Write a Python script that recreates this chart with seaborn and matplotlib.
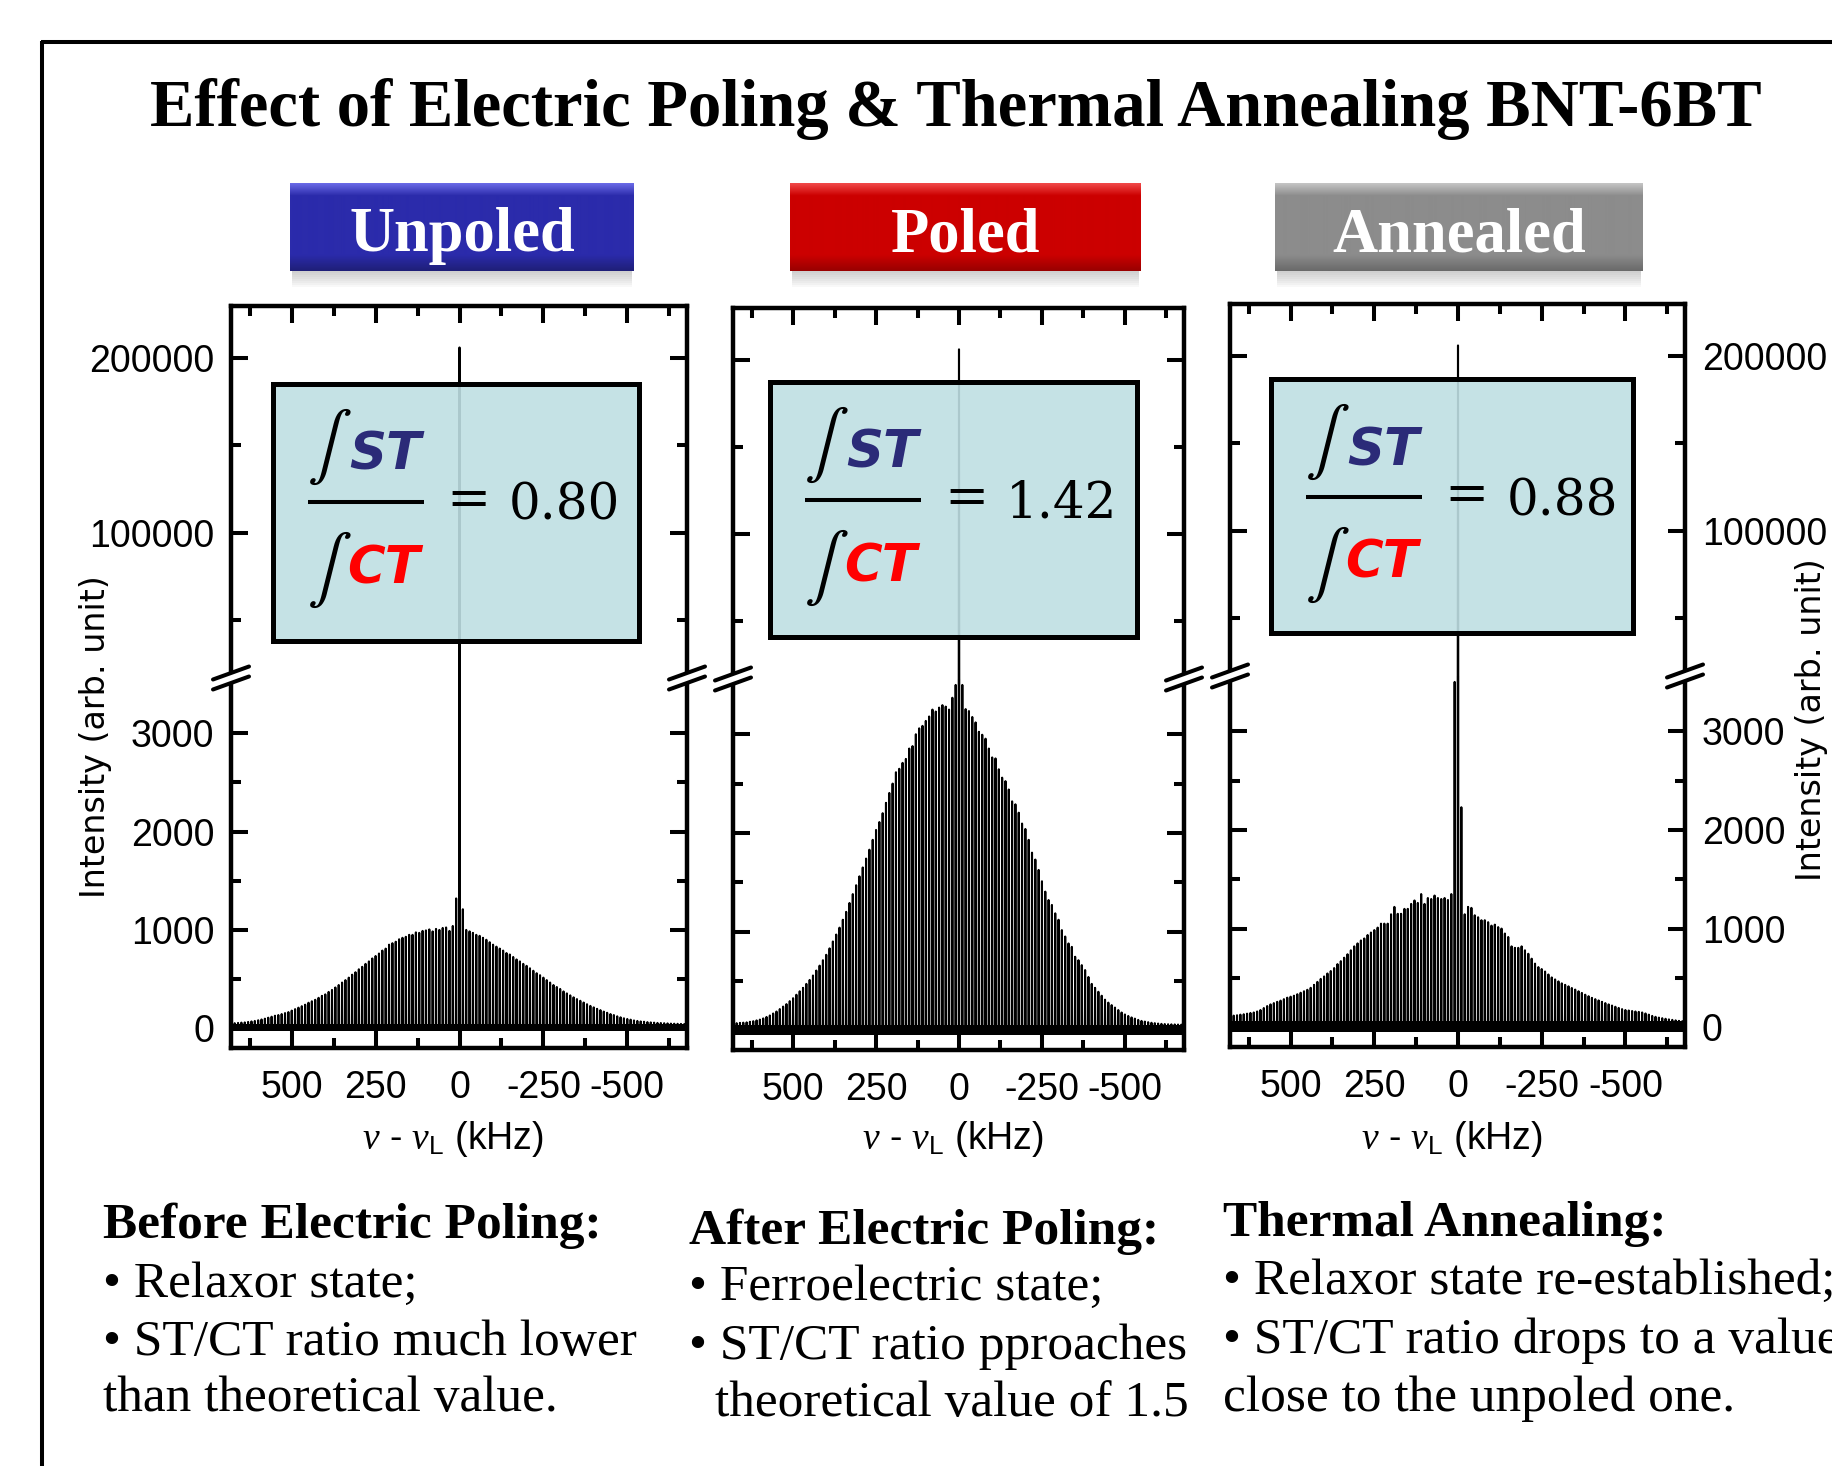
import numpy as np
import pandas as pd
import matplotlib
matplotlib.use("Agg")
import matplotlib.pyplot as plt
import seaborn as sns
from matplotlib import font_manager
from matplotlib.patches import Rectangle, Polygon

# ---- values -----------------------------------------------------------------
sample_names = ['Unpoled', 'Poled', 'Annealed']
st_ct_ratio = ['0.80', '1.42', '0.88']

sideband_step = 10          # kHz between spinning sidebands
ct_height = [206000, 206000, 206000]   # central line, reaches the upper axis

# sideband heights, +10 -> +680 kHz
unpoled_pos = [1320, 1040, 990, 1025, 1020, 1000, 1010, 985, 1005, 995,
               990, 970, 975, 950, 950, 930, 920, 905, 880, 865,
               850, 810, 790, 760, 735, 710, 680, 655, 625, 600,
               570, 545, 515, 490, 465, 440, 415, 390, 370, 345,
               330, 310, 290, 275, 260, 240, 225, 210, 195, 180,
               165, 155, 145, 135, 128, 118, 108, 98, 90, 82,
               75, 70, 65, 60, 58, 55, 52, 50]
# sideband heights, -10 -> -680 kHz
unpoled_neg = [1210, 1000, 985, 970, 950, 940, 920, 900, 875, 850,
               830, 810, 790, 765, 750, 725, 700, 680, 655, 635,
               610, 585, 560, 540, 515, 490, 465, 440, 420, 400,
               375, 355, 335, 315, 297, 280, 262, 245, 228, 213,
               198, 185, 170, 158, 145, 135, 122, 112, 102, 95,
               88, 80, 75, 70, 67, 63, 60, 58, 55, 54,
               52, 50, 48, 47, 46, 45, 44, 43]

poled_pos = [3500, 3370, 3250, 3280, 3295, 3270, 3230, 3250, 3180, 3135,
             3085, 3060, 3000, 2880, 2855, 2750, 2710, 2650, 2615, 2500,
             2405, 2305, 2200, 2110, 2030, 1930, 1830, 1740, 1650, 1560,
             1470, 1380, 1290, 1200, 1120, 1040, 970, 900, 830, 765,
             710, 655, 605, 555, 510, 470, 430, 395, 360, 325,
             295, 265, 240, 215, 190, 170, 150, 135, 120, 108,
             100, 92, 86, 80, 77, 75, 72, 70]
poled_neg = [3500, 3255, 3235, 3175, 3120, 3025, 2995, 2955, 2855, 2765,
             2755, 2645, 2560, 2525, 2440, 2320, 2290, 2205, 2095, 2040,
             1930, 1800, 1730, 1625, 1510, 1405, 1320, 1270, 1185, 1120,
             1015, 950, 880, 845, 745, 710, 660, 610, 540, 470,
             430, 390, 350, 310, 280, 255, 230, 205, 180, 160,
             145, 130, 118, 105, 95, 88, 82, 76, 72, 68,
             65, 63, 61, 60, 59, 58, 57, 56]

annealed_pos = [3500, 1350, 1290, 1310, 1300, 1310, 1335, 1300, 1310, 1250,
                1350, 1260, 1285, 1250, 1200, 1200, 1150, 1150, 1220, 1145,
                1050, 1050, 1050, 1010, 985, 960, 935, 900, 880, 850,
                820, 780, 740, 705, 670, 640, 600, 570, 545, 515,
                490, 460, 430, 400, 380, 365, 350, 335, 320, 310,
                300, 285, 270, 258, 245, 232, 215, 195, 175, 160,
                150, 145, 138, 132, 128, 122, 118, 115]
annealed_neg = [2230, 1145, 1220, 1210, 1135, 1115, 1085, 1085, 1065, 1030,
                1040, 1015, 1000, 950, 915, 820, 805, 805, 820, 780,
                745, 695, 645, 610, 590, 565, 535, 505, 485, 465,
                445, 430, 415, 398, 382, 365, 348, 330, 315, 298,
                285, 272, 258, 245, 232, 220, 208, 196, 184, 175,
                170, 165, 160, 156, 150, 140, 128, 115, 106, 98,
                92, 86, 80, 75, 70, 65, 62, 60]

# noisy baseline band (low, high)
noise_band = [(-30, 45), (-45, 55), (-45, 60)]

x_major = [500, 250, 0, -250, -500]
x_major_labels = ['500', '250', '0', '-250', '-500']
x_minor = [625, 375, 125, -125, -375, -625]
y_low_major = [0, 1000, 2000, 3000]
y_low_minor = [500, 1500, 2500]
y_high_major = [100000, 200000]
y_high_minor = [50000, 150000]

title = 'Effect of Electric Poling & Thermal Annealing BNT-6BT'
notes = [
    ['Before Electric Poling:', '\u2022 Relaxor state;',
     '\u2022 ST/CT ratio much lower', 'than theoretical value.'],
    ['After Electric Poling:', '\u2022 Ferroelectric state;',
     '\u2022 ST/CT ratio pproaches', 'theoretical value of 1.5'],
    ['Thermal Annealing:', '\u2022 Relaxor state re-established;',
     '\u2022 ST/CT ratio drops to a value', 'close to the unpoled one.'],
]

spectra = [(unpoled_pos, unpoled_neg), (poled_pos, poled_neg),
           (annealed_pos, annealed_neg)]

# ---- style ------------------------------------------------------------------
sns.set_style("white")
installed = {f.name for f in font_manager.fontManager.ttflist}
if 'Liberation Sans Narrow' in installed:
    SANS, TICK_FS = 'Liberation Sans Narrow', 31
else:
    SANS, TICK_FS = 'Liberation Sans', 27
plt.rcParams['font.family'] = [SANS, 'DejaVu Sans']
plt.rcParams['mathtext.fontset'] = 'custom'
plt.rcParams['mathtext.it'] = 'Liberation Serif:italic'
plt.rcParams['mathtext.rm'] = SANS
plt.rcParams['axes.unicode_minus'] = False
for key in ('text.color', 'axes.labelcolor', 'xtick.color', 'ytick.color',
            'axes.edgecolor'):
    plt.rcParams[key] = 'black'

W, H = 1832, 1466
SERIF = 'Liberation Serif'

# panel frames in pixels: left, right, top, break, bottom
panels = [(231, 687, 306, 678, 1048),
          (733, 1184, 308, 679, 1050),
          (1230, 1685, 304, 676, 1047)]
boxes = [(273, 384, 639, 641), (770, 382, 1137, 637), (1271, 379, 1633, 633)]
buttons = [(290, 634), (790, 1141), (1275, 1643)]
button_cols = [('#6a6ae6', '#2b2bab', '#1f1f78'),
               ('#f04848', '#cc0000', '#990000'),
               ('#c4c4c4', '#8c8c8c', '#6a6a6a')]
note_x = [(103, 103), (689, 715), (1223, 1223)]
note_y = [[1238, 1297, 1355, 1411], [1244, 1300, 1359, 1416],
          [1236, 1294, 1353, 1411]]


def rect(x0, y0, x1, y1):
    return [x0 / W, 1 - y1 / H, (x1 - x0) / W, (y1 - y0) / H]


def spectrum(pos_side, neg_side, centre, hw=0.8):
    k = np.arange(1, len(pos_side) + 1) * sideband_step
    x_pk = np.concatenate([-k[::-1], [0], k]).astype(float)
    y_pk = np.concatenate([np.array(neg_side)[::-1], [centre], pos_side]).astype(float)
    xs = (x_pk[:, None] + np.array([-hw, 0.0, hw])).ravel()
    ys = np.column_stack([np.zeros_like(y_pk), y_pk, np.zeros_like(y_pk)]).ravel()
    return pd.DataFrame({'nu': xs, 'I': ys})


fig = plt.figure(figsize=(W / 100, H / 100), dpi=100)
xlim = (681, -678)

for i, (x0, x1, top, brk, bot) in enumerate(panels):
    ax_hi = fig.add_axes(rect(x0, top, x1, brk))
    ax_lo = fig.add_axes(rect(x0, brk, x1, bot))
    df = spectrum(spectra[i][0], spectra[i][1], ct_height[i])
    for ax in (ax_hi, ax_lo):
        sns.lineplot(data=df, x='nu', y='I', sort=False, estimator=None,
                     color='black', lw=1.5, ax=ax)
        ax.set_xlabel('')
        ax.set_ylabel('')
        ax.set_xlim(*xlim)
        ax.set_xticks(x_major)
        ax.set_xticks(x_minor, minor=True)
        for s in ax.spines.values():
            s.set_linewidth(3.2)
            s.set_color('black')
        ax.tick_params(which='both', direction='in', width=2.9, colors='black',
                       left=True, right=True, labelleft=(i == 0),
                       labelright=(i == 2), pad=12, labelsize=TICK_FS)
        ax.tick_params(which='major', length=12)
        ax.tick_params(which='minor', length=7)
    lo, hi = noise_band[i]
    ax_lo.fill_between(list(xlim), lo, hi, color='black', lw=0)

    ax_hi.spines['bottom'].set_visible(False)
    ax_hi.tick_params(which='both', top=True, bottom=False, labelbottom=False)
    ax_hi.set_ylim(17000, 229700)
    ax_hi.set_yticks(y_high_major)
    ax_hi.set_yticklabels([str(v) for v in y_high_major])
    ax_hi.set_yticks(y_high_minor, minor=True)

    ax_lo.spines['top'].set_visible(False)
    ax_lo.tick_params(which='both', top=False, bottom=True, labelbottom=True)
    ax_lo.tick_params(axis='x', pad=16)
    ax_lo.set_xticklabels(x_major_labels)
    ax_lo.set_ylim(-200, 3560)
    ax_lo.set_yticks(y_low_major)
    ax_lo.set_yticklabels([str(v) for v in y_low_major])
    ax_lo.set_yticks(y_low_minor, minor=True)

# ---- overlay in pixel coordinates -------------------------------------------
ov = fig.add_axes([0, 0, 1, 1])
ov.set_xlim(0, W)
ov.set_ylim(H, 0)
ov.axis('off')

# outer frame
ov.plot([41, W + 10], [42, 42], color='black', lw=2.9, solid_capstyle='butt')
ov.plot([42, 42], [41, H + 10], color='black', lw=2.9, solid_capstyle='butt')

ov.text(956, 126, title, ha='center', va='baseline', fontsize=48,
        weight='bold', family=SERIF)

# coloured headers
for (bx0, bx1), (c_top, c_mid, c_bot), name in zip(buttons, button_cols, sample_names):
    by0, by1 = 183, 271
    for k in range(8):
        ov.add_patch(Rectangle((bx0 + 2, by1), bx1 - bx0 - 4, 2 + 2 * k,
                               color='gray', alpha=0.05, lw=0))
    n = 88
    r = np.linspace(0, 1, n)
    ct = np.array(matplotlib.colors.to_rgb(c_top))
    cm = np.array(matplotlib.colors.to_rgb(c_mid))
    cb = np.array(matplotlib.colors.to_rgb(c_bot))
    w_top = np.clip(1 - r / 0.14, 0, 1)[:, None]
    w_bot = np.clip((r - 0.82) / 0.18, 0, 1)[:, None]
    grad = cm * (1 - w_top - w_bot) + ct * w_top + cb * w_bot
    ov.imshow(grad[:, None, :], extent=(bx0, bx1, by1, by0), aspect='auto',
              interpolation='bilinear', zorder=2)
    ov.text((bx0 + bx1) / 2, 251, name, ha='center', va='baseline',
            fontsize=45, weight='bold', family=SERIF, color='white', zorder=3)
ov.set_xlim(0, W)
ov.set_ylim(H, 0)

# ratio boxes
for i, (bx0, by0, bx1, by1) in enumerate(boxes):
    ov.add_patch(Rectangle((bx0, by0), bx1 - bx0, by1 - by0,
                           facecolor=(0.75, 0.875, 0.89, 0.9),
                           edgecolor='black', lw=3.6, zorder=2))
    ov.text(bx0 + 56, by0 + 63, r'$\int$', math_fontfamily='stix', fontsize=48,
            ha='center', va='center', zorder=3)
    ov.text(bx0 + 76, by0 + 86, 'ST', fontsize=37, weight='bold', style='italic',
            family='DejaVu Sans', color='#2b2b78', va='baseline', zorder=3)
    ov.plot([bx0 + 35, bx0 + 151], [by0 + 118] * 2, color='black', lw=2.9,
            solid_capstyle='butt', zorder=3)
    ov.text(bx0 + 56, by0 + 186, r'$\int$', math_fontfamily='stix', fontsize=48,
            ha='center', va='center', zorder=3)
    ov.text(bx0 + 74, by0 + 199, 'CT', fontsize=37, weight='bold', style='italic',
            family='DejaVu Sans', color='#ff0000', va='baseline', zorder=3)
    ov.text(bx0 + 196, by0 + 131, '=', fontsize=38, family='DejaVu Serif',
            ha='center', va='baseline', zorder=3)
    ov.text(bx0 + 236, by0 + 136, st_ct_ratio[i], fontsize=36,
            family='DejaVu Serif', va='baseline', zorder=3)

# axis-break marks
for (x0, x1, top, brk, bot) in panels:
    for xs in (x0, x1):
        ov.add_patch(Polygon([(xs - 18, brk + 1.5), (xs + 18, brk - 11.5),
                              (xs + 18, brk - 1.5), (xs - 18, brk + 11.5)],
                             closed=True, facecolor='white', lw=0, zorder=4))
        for off in (-5, 5):
            ov.plot([xs - 18, xs + 18], [brk + off + 6.5, brk + off - 6.5],
                    color='black', lw=2.9, zorder=5)

# axis labels
xlab = r'$\nu$ - $\nu_{\rm L}$ (kHz)'
for (x0, x1, top, brk, bot) in panels:
    ov.text((x0 + x1) / 2 - 6, 1149, xlab, ha='center', va='baseline',
            fontsize=TICK_FS)
ov.text(96, 737, 'Intensity (arb. unit)', rotation=90, ha='center', va='center',
        fontsize=24, family='DejaVu Sans')
ov.text(1811, 720, 'Intensity (arb. unit)', rotation=90, ha='center', va='center',
        fontsize=24, family='DejaVu Sans')

# notes underneath
for col, lines in enumerate(notes):
    for j, line in enumerate(lines):
        x = note_x[col][1] if (j == 3 and col == 1) else note_x[col][0]
        ov.text(x, note_y[col][j], line, fontsize=37, family=SERIF,
                weight='bold' if j == 0 else 'normal', va='baseline')

fig.savefig('out.png', dpi=100)
